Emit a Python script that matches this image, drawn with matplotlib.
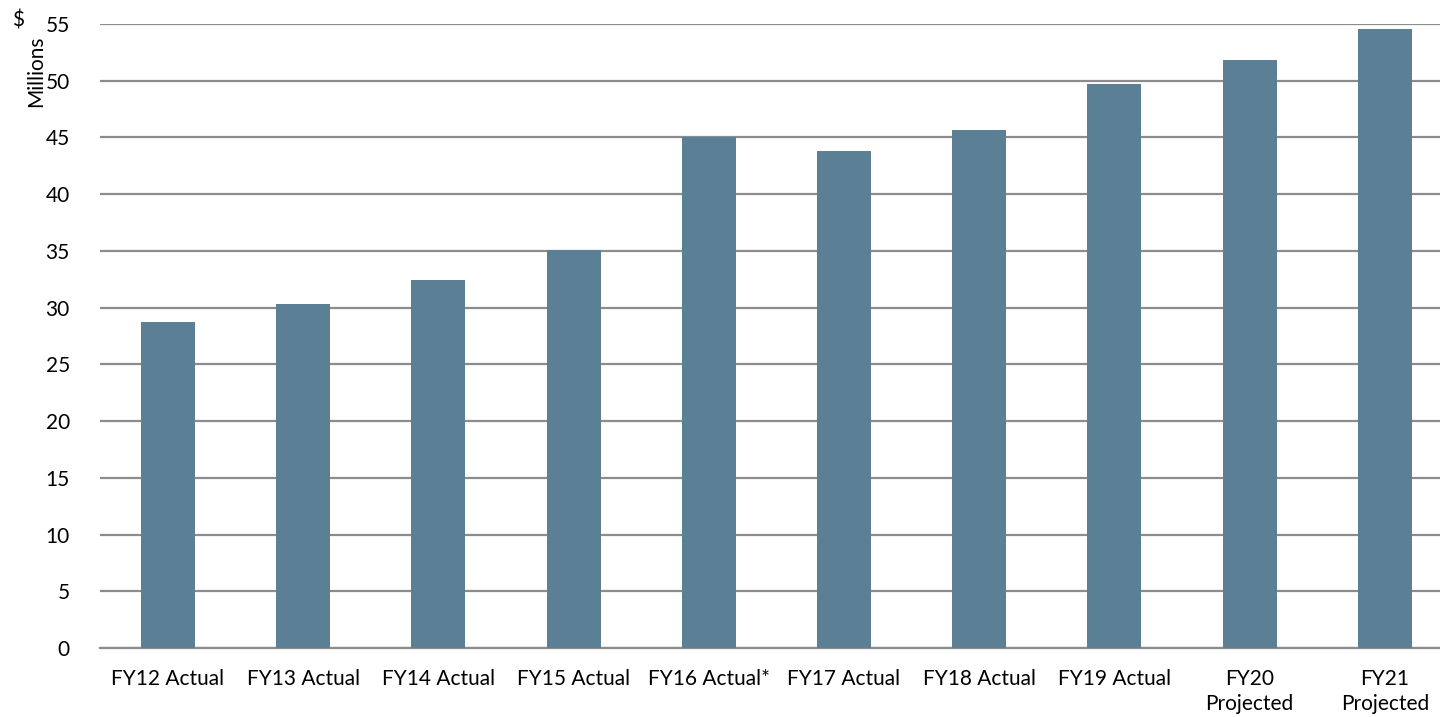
import numpy as np
import matplotlib.pyplot as plt

categories = ['FY12 Actual', 'FY13 Actual', 'FY14 Actual', 'FY15 Actual', 'FY16 Actual*',
              'FY17 Actual', 'FY18 Actual', 'FY19 Actual', 'FY20\nProjected', 'FY21\nProjected']
values = [28.7, 30.3, 32.4, 35.1, 45.0, 43.8, 45.7, 49.7, 51.8, 54.6]
yticks = [0, 5, 10, 15, 20, 25, 30, 35, 40, 45, 50, 55]

plt.rcParams['font.family'] = ['Lato', 'DejaVu Sans']

fig = plt.figure(figsize=(14.4, 7.17), dpi=100)
# axes runs a bit past the right edge, like the source
ax = fig.add_axes([0.0697, 0.0962, 0.9389, 0.8703])

x = np.arange(len(categories))
ax.bar(x, values, width=0.4, color='#5b7f95', zorder=3)

ax.set_xlim(-0.5, len(categories) - 0.5)
ax.set_ylim(0, 55)
ax.set_yticks(yticks)
ax.set_xticks(x)
ax.set_xticklabels(categories, fontsize=15, va='top', linespacing=1.35)
ax.tick_params(axis='y', labelsize=15, length=0, pad=22)
ax.tick_params(axis='x', length=0, pad=15)
ax.grid(axis='y', color='#8c8c8c', linewidth=1.6, zorder=0)
for s in ['top', 'right', 'left']:
    ax.spines[s].set_visible(False)
ax.spines['bottom'].set_color('#8c8c8c')
ax.spines['bottom'].set_linewidth(1.6)

fig.text(0.0125, 0.972, '$', fontsize=15, ha='center', va='center')
fig.text(0.025, 0.9, 'Millions', fontsize=15, rotation=90, ha='center', va='center')

plt.savefig('out.png', dpi=100)
